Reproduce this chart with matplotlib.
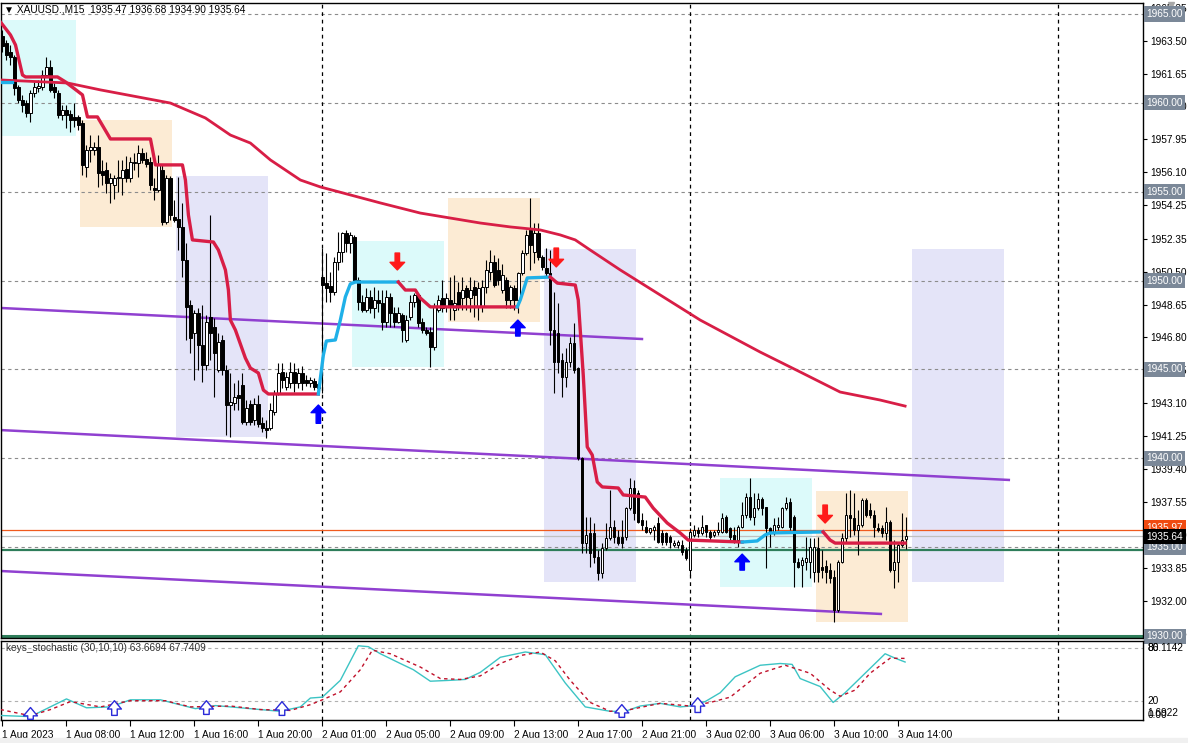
import numpy as np
import matplotlib
matplotlib.use("Agg")
import matplotlib.pyplot as plt
from matplotlib.patches import Rectangle

plt.rcParams['font.family'] = ['Liberation Sans', 'DejaVu Sans']

# --- M15 candles, bar 0 = 1 Aug 04:00 ---
opens = [
    1963.76, 1963.37, 1962.87, 1962.59, 1960.90, 1960.16, 1959.99, 1959.43, 1960.56, 1960.84,
    1960.90, 1961.57, 1962.02, 1960.90, 1960.56, 1959.32, 1959.60, 1959.37, 1959.21, 1959.21,
    1958.87, 1956.39, 1957.35, 1957.35, 1957.52, 1956.17, 1956.22, 1955.49, 1955.38, 1955.77,
    1955.77, 1956.28, 1955.77, 1956.62, 1956.62, 1957.18, 1956.84, 1956.68, 1955.21, 1955.10,
    1956.22, 1953.30, 1955.77, 1953.58, 1953.47, 1953.02, 1951.16, 1948.63, 1947.05, 1948.18,
    1946.38, 1945.25, 1947.95, 1947.39, 1944.97, 1946.66, 1944.97, 1943.00, 1943.11, 1943.56,
    1944.13, 1942.04, 1943.06, 1942.16, 1943.06, 1941.99, 1941.71, 1941.71, 1942.61, 1943.67,
    1944.86, 1944.01, 1944.24, 1944.86, 1944.24, 1944.80, 1944.41, 1944.24, 1944.35, 1943.96,
    1950.20, 1949.86, 1949.70, 1949.36, 1951.05, 1951.61, 1952.68, 1952.12, 1952.46, 1950.03,
    1948.80, 1948.35, 1949.08, 1948.46, 1948.91, 1948.74, 1947.67, 1949.08, 1948.18, 1947.67,
    1948.07, 1946.66, 1947.95, 1948.80, 1949.19, 1947.67, 1947.22, 1947.11, 1946.27, 1948.35,
    1949.02, 1948.52, 1948.91, 1948.35, 1949.36, 1949.02, 1949.58, 1949.02, 1949.64, 1948.52,
    1948.52, 1949.64, 1950.49, 1951.05, 1950.60, 1949.47, 1950.03, 1948.91, 1949.58, 1948.91,
    1950.43, 1951.55, 1952.85, 1951.61, 1952.68, 1951.33, 1950.71, 1950.43, 1947.22, 1947.05,
    1945.53, 1944.58, 1945.42, 1946.49, 1945.08, 1940.02, 1935.23, 1935.80, 1935.80, 1934.45,
    1933.55, 1934.95, 1935.51, 1936.13, 1935.57, 1935.57, 1935.57, 1937.20, 1938.33, 1938.05,
    1936.53, 1936.13, 1935.86, 1935.97, 1936.36, 1935.80, 1935.80, 1935.57, 1935.12, 1935.12,
    1935.12, 1934.84, 1933.71, 1935.69, 1935.97, 1935.80, 1936.25, 1935.86, 1935.69, 1935.86,
    1935.86, 1936.69, 1936.08, 1935.69, 1935.40, 1936.13, 1936.81, 1937.82, 1936.69, 1937.20,
    1937.71, 1937.26, 1936.08, 1935.80, 1936.13, 1936.13, 1937.20, 1937.54, 1936.69, 1934.17,
    1934.00, 1934.17, 1934.17, 1933.60, 1934.95, 1933.88, 1933.94, 1933.71, 1933.32, 1931.46,
    1934.17, 1935.51, 1936.81, 1936.64, 1935.97, 1936.25, 1937.66, 1937.09, 1936.81, 1936.08,
    1936.08, 1935.80, 1936.42, 1933.71, 1934.17, 1935.12, 1935.47]
highs = [
    1964.10, 1963.54, 1963.26, 1962.70, 1961.01, 1960.45, 1960.16, 1960.73, 1961.18, 1961.29,
    1961.85, 1962.59, 1962.41, 1961.12, 1960.73, 1959.88, 1959.88, 1959.60, 1959.99, 1959.32,
    1959.04, 1957.63, 1958.19, 1957.80, 1958.19, 1956.79, 1956.68, 1956.05, 1955.94, 1956.79,
    1956.79, 1957.01, 1956.96, 1957.18, 1957.63, 1957.46, 1957.24, 1956.96, 1955.77, 1957.07,
    1956.51, 1955.94, 1955.89, 1954.54, 1955.83, 1954.37, 1952.12, 1948.91, 1948.35, 1948.46,
    1948.63, 1948.07, 1953.69, 1947.90, 1947.05, 1946.94, 1945.25, 1944.80, 1944.24, 1944.41,
    1944.80, 1943.28, 1943.28, 1943.39, 1943.56, 1942.33, 1942.16, 1943.11, 1943.84, 1945.36,
    1945.36, 1944.86, 1945.42, 1945.36, 1945.08, 1945.19, 1944.69, 1944.58, 1944.52, 1944.24,
    1951.84, 1951.55, 1950.49, 1951.33, 1952.74, 1952.74, 1952.85, 1952.74, 1952.57, 1950.20,
    1949.19, 1949.58, 1949.47, 1949.64, 1949.47, 1949.47, 1949.47, 1949.30, 1948.52, 1948.52,
    1948.18, 1948.07, 1949.19, 1949.30, 1949.30, 1947.90, 1947.39, 1947.39, 1948.74, 1949.19,
    1950.03, 1949.30, 1950.20, 1950.31, 1949.92, 1950.20, 1949.75, 1950.20, 1950.03, 1949.92,
    1950.03, 1951.16, 1951.72, 1951.44, 1951.27, 1950.94, 1950.20, 1949.75, 1949.75, 1950.49,
    1951.72, 1952.85, 1954.65, 1953.24, 1953.24, 1951.44, 1951.84, 1951.72, 1949.36, 1948.74,
    1945.93, 1946.21, 1946.83, 1947.62, 1945.14, 1940.07, 1936.69, 1936.69, 1936.36, 1934.84,
    1935.23, 1936.36, 1938.22, 1936.53, 1935.97, 1936.53, 1937.26, 1938.89, 1938.78, 1938.22,
    1936.92, 1936.53, 1936.08, 1936.25, 1936.69, 1935.97, 1935.86, 1935.68, 1935.40, 1935.40,
    1935.40, 1935.01, 1936.08, 1936.25, 1936.13, 1936.81, 1936.25, 1935.97, 1935.97, 1936.42,
    1936.92, 1936.81, 1936.13, 1936.13, 1936.25, 1937.54, 1938.05, 1938.89, 1938.05, 1938.05,
    1937.82, 1937.26, 1936.13, 1936.64, 1936.69, 1937.26, 1937.82, 1937.77, 1936.81, 1934.39,
    1934.45, 1935.57, 1935.51, 1935.51, 1935.57, 1934.84, 1934.28, 1934.11, 1933.71, 1934.28,
    1935.80, 1938.05, 1938.22, 1938.05, 1937.09, 1937.77, 1937.77, 1937.49, 1937.09, 1936.36,
    1936.25, 1937.26, 1936.53, 1935.40, 1935.23, 1936.92, 1936.68]
lows = [
    1962.87, 1962.41, 1962.13, 1960.45, 1959.99, 1959.49, 1959.21, 1958.93, 1960.34, 1960.62,
    1960.73, 1961.46, 1960.62, 1960.28, 1959.15, 1959.04, 1958.59, 1958.36, 1958.65, 1958.47,
    1955.94, 1955.83, 1956.68, 1957.07, 1955.27, 1955.38, 1954.93, 1954.37, 1954.59, 1954.99,
    1954.82, 1955.55, 1955.55, 1956.22, 1955.83, 1956.62, 1956.39, 1955.10, 1954.54, 1954.99,
    1953.13, 1953.18, 1953.41, 1953.30, 1951.72, 1950.20, 1946.66, 1945.93, 1944.41, 1944.97,
    1944.30, 1944.97, 1945.53, 1943.45, 1944.86, 1944.69, 1941.31, 1941.20, 1942.72, 1942.72,
    1941.93, 1941.87, 1941.87, 1941.87, 1941.76, 1941.48, 1941.14, 1941.59, 1942.44, 1943.56,
    1943.96, 1943.84, 1943.96, 1943.73, 1943.96, 1943.84, 1944.07, 1944.01, 1943.84, 1943.73,
    1943.67, 1948.80, 1948.80, 1949.19, 1950.60, 1951.05, 1951.61, 1951.55, 1949.86, 1948.35,
    1948.24, 1948.24, 1948.18, 1947.90, 1948.24, 1947.22, 1947.39, 1947.39, 1947.39, 1947.61,
    1946.55, 1946.55, 1947.78, 1948.52, 1947.39, 1947.05, 1946.94, 1945.14, 1946.10, 1948.24,
    1948.24, 1948.24, 1947.78, 1947.78, 1948.35, 1948.35, 1948.35, 1948.24, 1947.96, 1947.78,
    1948.24, 1949.30, 1950.03, 1949.64, 1949.75, 1949.30, 1948.46, 1948.46, 1948.35, 1948.18,
    1950.32, 1951.44, 1950.60, 1950.99, 1951.16, 1950.60, 1950.20, 1946.38, 1943.67, 1944.80,
    1943.45, 1944.01, 1945.14, 1944.80, 1939.91, 1934.67, 1934.67, 1933.88, 1934.11, 1933.15,
    1933.26, 1934.84, 1935.40, 1935.23, 1935.12, 1934.95, 1935.40, 1937.09, 1936.53, 1936.36,
    1935.97, 1935.80, 1935.74, 1935.40, 1935.23, 1935.12, 1935.12, 1934.95, 1935.01, 1934.95,
    1934.56, 1934.28, 1933.43, 1935.57, 1935.57, 1935.69, 1935.57, 1935.40, 1935.57, 1935.69,
    1935.80, 1935.80, 1935.29, 1935.23, 1935.01, 1936.08, 1936.64, 1936.53, 1936.25, 1937.09,
    1936.81, 1933.83, 1935.01, 1935.69, 1935.97, 1936.08, 1937.09, 1935.97, 1932.76, 1933.83,
    1932.76, 1933.71, 1933.26, 1933.04, 1933.04, 1933.26, 1932.98, 1932.98, 1930.79, 1931.35,
    1934.11, 1935.23, 1935.57, 1935.69, 1934.56, 1936.13, 1936.69, 1936.64, 1935.57, 1935.86,
    1935.57, 1935.40, 1933.60, 1932.70, 1933.04, 1935.01, 1934.90]
closes = [
    1963.20, 1962.70, 1962.59, 1960.84, 1960.16, 1959.88, 1959.43, 1960.56, 1960.90, 1960.95,
    1961.57, 1962.02, 1960.73, 1960.62, 1959.32, 1959.60, 1959.32, 1959.04, 1959.04, 1958.76,
    1956.51, 1957.35, 1957.52, 1957.52, 1956.05, 1955.94, 1955.49, 1955.77, 1955.77, 1955.83,
    1956.22, 1955.77, 1956.68, 1956.68, 1957.18, 1956.79, 1956.56, 1955.38, 1955.10, 1956.51,
    1953.30, 1955.77, 1953.69, 1953.41, 1953.02, 1951.16, 1948.52, 1946.77, 1948.18, 1946.38,
    1945.25, 1947.67, 1947.05, 1945.93, 1946.55, 1944.97, 1943.00, 1943.17, 1943.45, 1943.39,
    1942.04, 1942.83, 1942.04, 1943.06, 1941.93, 1941.71, 1941.59, 1942.72, 1943.67, 1944.80,
    1944.41, 1944.58, 1944.86, 1944.24, 1944.80, 1944.24, 1944.24, 1944.41, 1944.01, 1944.18,
    1949.75, 1949.58, 1949.36, 1951.05, 1951.61, 1952.68, 1952.12, 1952.57, 1950.03, 1948.80,
    1948.35, 1949.08, 1948.46, 1948.91, 1948.74, 1947.67, 1949.08, 1948.18, 1947.67, 1948.18,
    1947.22, 1947.78, 1948.80, 1949.19, 1947.62, 1947.22, 1947.05, 1946.27, 1948.52, 1948.91,
    1948.46, 1949.02, 1948.52, 1948.74, 1948.63, 1949.47, 1949.08, 1949.47, 1949.19, 1949.58,
    1949.64, 1950.60, 1951.05, 1949.75, 1950.03, 1950.32, 1948.91, 1949.64, 1948.91, 1950.43,
    1951.55, 1952.57, 1952.01, 1952.68, 1951.33, 1950.77, 1950.43, 1947.22, 1945.42, 1945.42,
    1944.58, 1945.42, 1946.49, 1944.97, 1940.02, 1935.23, 1935.68, 1934.67, 1934.45, 1933.55,
    1934.95, 1935.51, 1936.13, 1935.57, 1935.23, 1935.23, 1937.20, 1938.33, 1936.92, 1936.42,
    1936.25, 1935.86, 1936.08, 1936.13, 1935.29, 1935.29, 1935.29, 1935.29, 1935.23, 1935.29,
    1934.73, 1934.39, 1935.86, 1935.97, 1935.80, 1936.13, 1935.86, 1935.57, 1935.86, 1935.97,
    1936.64, 1935.86, 1935.57, 1935.29, 1936.13, 1936.81, 1937.82, 1936.69, 1937.20, 1937.71,
    1937.20, 1936.08, 1935.80, 1936.25, 1936.25, 1937.20, 1937.49, 1936.13, 1934.17, 1933.88,
    1934.28, 1934.39, 1935.01, 1935.01, 1933.60, 1933.71, 1933.60, 1933.26, 1931.46, 1934.17,
    1935.51, 1936.81, 1936.64, 1935.97, 1936.25, 1937.66, 1936.81, 1936.81, 1936.13, 1935.97,
    1935.80, 1936.42, 1933.71, 1934.17, 1935.12, 1935.40, 1935.64]

# long moving average (vertices: bar index, price)
ma_bar = [-0.5, 16.25, 24.5, 42, 50.75, 57, 62, 67, 74.5, 79.5, 87, 94.5, 104.5, 112, 119.5,
          127, 134.5, 139.5, 143.25, 147, 154.5, 164.5, 174.5, 189.5, 199.5, 209.5, 219.5, 225.75]
ma_val = [1961.29, 1961.12, 1960.73, 1959.99, 1959.15, 1958.19, 1957.74, 1956.79, 1955.66,
          1955.27, 1954.82, 1954.37, 1953.80, 1953.52, 1953.24, 1953.02, 1952.85, 1952.57,
          1952.29, 1951.72, 1950.60, 1949.19, 1947.78, 1945.98, 1944.86, 1943.73, 1943.28, 1942.94]

# trailing stop line segments: (direction, bars, prices)
trail_segments = [
    ('up', [-0.5, 2.5], [1961.18, 1961.18]),
    ('dn', [-0.5, 2, 3.25, 5, 5.75, 13.75, 15.75, 20, 21.25, 23.75, 27, 37, 38.25, 45, 45.75,
            46.5, 47.5, 52.75, 54, 55.75, 56.5, 57, 58.25, 60.75, 62, 64, 65.25, 66.5, 79],
     [1964.55, 1963.82, 1963.26, 1961.57, 1961.46, 1961.46, 1961.18, 1960.45, 1959.21, 1959.21,
      1957.97, 1957.97, 1956.51, 1956.51, 1955.66, 1953.69, 1952.29, 1952.17, 1951.72, 1950.60,
      1949.47, 1947.78, 1947.22, 1945.64, 1945.08, 1944.80, 1943.84, 1943.62, 1943.62]),
    ('up', [79, 80.25, 81, 83.25, 84.5, 85.75, 87, 88.25, 99],
     [1943.62, 1945.81, 1946.60, 1946.66, 1947.78, 1949.08, 1949.81, 1949.92, 1949.92]),
    ('dn', [99, 100.75, 103.25, 104.5, 107, 128.75],
     [1949.92, 1949.47, 1949.47, 1949.02, 1948.52, 1948.52]),
    ('up', [128.75, 129.5, 131.25, 137], [1948.52, 1948.91, 1950.15, 1950.20]),
    ('dn', [137, 138.75, 143.25, 144, 145.25, 146.25, 147.5, 148.75, 150, 154, 155.25, 160.75,
            162.75, 166.25, 169.5, 171.5, 185],
     [1950.20, 1949.86, 1949.75, 1948.91, 1944.69, 1940.64, 1940.19, 1938.67, 1938.39, 1938.33,
      1937.94, 1937.82, 1937.20, 1936.36, 1935.80, 1935.40, 1935.29]),
    ('up', [185, 188.75, 190.75, 192, 205.25], [1935.29, 1935.35, 1935.69, 1935.80, 1935.86]),
    ('dn', [205.25, 207, 208.25, 225.75], [1935.86, 1935.40, 1935.23, 1935.23]),
]

# channel lines (start bar, start price, end bar, end price)
channels = [(-0.5, 1948.46, 160.25, 1946.71),
            (-0.5, 1941.59, 252, 1938.78),
            (-0.5, 1933.66, 220, 1931.24)]

# session boxes (start bar, end bar, low, high, kind)
boxes = [(-4.5, 18.5, 1958.13, 1964.66, 'asia'), (19.5, 42.5, 1953.01, 1959.04, 'london'),
         (43.5, 66.5, 1941.20, 1955.88, 'ny'), (87.5, 110.5, 1945.14, 1952.23, 'asia'),
         (111.5, 134.5, 1947.67, 1954.65, 'london'), (135.5, 158.5, 1933.04, 1951.78, 'ny'),
         (179.5, 202.5, 1932.76, 1938.89, 'asia'), (203.5, 226.5, 1930.79, 1938.16, 'london'),
         (227.5, 250.5, 1933.04, 1951.78, 'ny')]

# signal arrows: (bar, tail price, tip price)
buy_arrows = [(79, 1941.97, 1943.00), (128.9, 1946.88, 1947.78), (185, 1933.71, 1934.61)]
sell_arrows = [(98.75, 1951.55, 1950.60), (138.5, 1951.83, 1950.77), (205.75, 1937.37, 1936.36)]

# stochastic (30,10,10)
stoch_bar = [-0.5, 7, 16, 21, 27, 32, 39.5, 48.25, 53.25, 62, 69.5, 74.5, 77, 80, 84.5, 89, 91.5,
             94.5, 99.5, 102.75, 107, 112, 115.75, 119.5, 124.5, 130.75, 135.75, 140.75, 145.75,
             152, 155.75, 159.5, 164.5, 169.5, 172, 175.75, 179.5, 183.25, 189.5, 194.5, 197.5,
             199.5, 204.5, 207.75, 210.75, 213.25, 218.25, 220.75, 223.25, 225.75]
stoch_main = [3.3, 2, 22, 12, 13, 21, 21, 11, 14.5, 11, 8, 13, 23, 24, 43, 82, 81, 73, 62, 55,
              42, 43, 44, 52, 69, 75, 72, 40, 13, 8, 8, 14, 17, 13, 14, 19, 29, 47, 60, 62, 61,
              45, 36, 18, 29, 40, 62, 73, 68, 63.67]
sig_bar = [-0.5, 7, 12, 17, 24.5, 32, 40.75, 47, 57, 64.5, 72, 77, 80, 84.5, 89.5, 92.5, 97,
           99.5, 104.5, 109.5, 114.5, 119.5, 124.5, 129.5, 134.5, 138.25, 142, 147, 152, 157,
           164.5, 172, 177, 182, 189.5, 195.75, 202, 207, 209.5, 213.25, 217, 222, 225.75]
stoch_signal = [10, 3, 10, 19, 13, 20, 20, 13, 14, 10, 9, 15.5, 21, 30, 55, 77, 73, 68, 58, 45,
                44, 48, 62, 71, 75, 65, 43, 18, 8, 10, 17, 14, 18, 24, 51, 60, 51, 32, 25, 32,
                51, 68, 67.74]
# hollow buy arrows in the stochastic window: (bar, tail, tip)
stoch_arrows = [(7, -1.0, 12.3), (28, 3.4, 20), (51, 4.5, 20), (69.9, 3.4, 18.9),
                (154.9, 1.2, 15.6), (173.9, 6.7, 23.3)]

time_bars = [0, 16, 32, 48, 64, 80, 96, 112, 128, 144, 160, 176, 192, 208, 224]
time_labels = ['1 Aug 2023', '1 Aug 08:00', '1 Aug 12:00', '1 Aug 16:00', '1 Aug 20:00',
               '2 Aug 01:00', '2 Aug 05:00', '2 Aug 09:00', '2 Aug 13:00', '2 Aug 17:00',
               '2 Aug 21:00', '3 Aug 02:00', '3 Aug 06:00', '3 Aug 10:00', '3 Aug 14:00']
day_breaks = [80, 172, 264]
price_ticks = [1965.35, 1963.50, 1961.65, 1959.80, 1957.95, 1956.10, 1954.25, 1952.35, 1950.50,
               1948.65, 1946.80, 1944.95, 1943.10, 1941.25, 1939.40, 1937.55, 1935.70, 1933.85,
               1932.00, 1930.15]
levels = [1965, 1960, 1955, 1950, 1945, 1940, 1935, 1930]

box_colors = {'asia': '#dcfafa', 'london': '#fcebd4', 'ny': '#e4e4f8'}
UP_COL, DN_COL = '#1fb0e8', '#d81e46'
FS = 7.3

W, H = 1188, 743
fig = plt.figure(figsize=(W / 100, H / 100), dpi=100)


def rect(x0, y0, x1, y1):
    return [x0 / W, 1 - y1 / H, (x1 - x0) / W, (y1 - y0) / H]


ax = fig.add_axes(rect(0.5, 3, 1143, 638))
axs = fig.add_axes(rect(0.5, 641, 1143, 720))
fig.patches.append(Rectangle((0, 0), 1, 5 / H, transform=fig.transFigure, color='#f0f0f0'))

ax.set_xlim(-0.5, 285.25)
ax.set_ylim(1929.89, 1965.62)
axs.set_xlim(-0.5, 285.25)
axs.set_ylim(-1.8, 87.4)

for b0, b1, lo, hi, kind in boxes:
    ax.add_patch(Rectangle((b0, lo), b1 - b0, hi - lo, color=box_colors[kind], lw=0, zorder=0.5))

for lv in levels:
    ax.axhline(lv, color='#8c8c8c', lw=0.8, ls=(0, (3, 3)), zorder=0.8)
for d in day_breaks:
    ax.axvline(d, color='black', lw=0.9, ls=(0, (3, 3)), zorder=0.9)
    axs.axvline(d, color='black', lw=0.9, ls=(0, (3, 3)), zorder=0.9)

# price lines
ax.axhline(1935.97, color='#f05a1e', lw=0.9, zorder=1)
ax.axhline(1935.64, color='#c0c0c0', lw=0.9, zorder=1)
ax.axhline(1934.86, color='#2e7d5a', lw=1.6, zorder=1)
ax.axhline(1930.02, color='#2e7d5a', lw=2.2, zorder=1)

for b0, p0, b1, p1 in channels:
    ax.plot([b0, b1], [p0, p1], color='#9040d0', lw=1.8, zorder=1.5, solid_capstyle='butt')

# candles
o = np.array(opens)
c = np.array(closes)
idx = np.arange(len(o))
bull = c >= o
ax.vlines(idx, lows, highs, color='black', lw=0.8, zorder=2)
bot = np.minimum(o, c)
hgt = np.maximum(np.abs(c - o), 0.04)
ax.bar(idx[bull], hgt[bull], bottom=bot[bull], width=0.62, color='white',
       edgecolor='black', lw=0.7, zorder=2.5)
ax.bar(idx[~bull], hgt[~bull], bottom=bot[~bull], width=0.62, color='black',
       edgecolor='black', lw=0.7, zorder=2.5)

ax.plot(ma_bar, ma_val, color=DN_COL, lw=2.0, zorder=3)
for kind, xs, ys in trail_segments:
    ax.plot(xs, ys, color=UP_COL if kind == 'up' else DN_COL, lw=2.4, zorder=3.2,
            solid_joinstyle='round')

arrow_style = 'simple,head_width=1.05,head_length=0.55,tail_width=0.32'
for b, tail, tip in buy_arrows:
    ax.annotate('', xy=(b, tip), xytext=(b, tail), zorder=4,
                arrowprops=dict(arrowstyle=arrow_style, color='#0000ff',
                                shrinkA=0, shrinkB=0, mutation_scale=10))
for b, tail, tip in sell_arrows:
    ax.annotate('', xy=(b, tip), xytext=(b, tail), zorder=4,
                arrowprops=dict(arrowstyle=arrow_style, color='#ff1a1a',
                                shrinkA=0, shrinkB=0, mutation_scale=10))

# right price scale
ax.yaxis.tick_right()
ax.set_yticks(price_ticks)
ax.set_yticklabels([f'{t:.2f}' for t in price_ticks])
ax.tick_params(axis='y', length=3, width=0.8, pad=2, labelsize=FS, colors='black')
ax.set_xticks([])
ytr = ax.get_yaxis_transform()
box_kw = dict(boxstyle='square,pad=0.25', ec='none')
for lv in levels:
    ax.text(1.003, lv, f'{lv:.2f}', transform=ytr, va='center', ha='left', fontsize=FS,
            color='white', clip_on=False, zorder=5, bbox=dict(fc='#7b8898', **box_kw))
ax.text(1.003, 1936.08, '1935.97', transform=ytr, va='center', ha='left', fontsize=FS,
        color='white', clip_on=False, zorder=5, bbox=dict(fc='#f04a10', **box_kw))
ax.text(1.003, 1935.60, '1935.64', transform=ytr, va='center', ha='left', fontsize=FS,
        color='white', clip_on=False, zorder=5.5, bbox=dict(fc='black', **box_kw))
ax.plot([1.0 + 28 / 1142], [1965.51], marker='v', color='#a8a8a8', ms=5,
        transform=ytr, clip_on=False)

fig.text(4 / W, 1 - 10 / H, '\u25bc XAUUSD.,M15  1935.47 1936.68 1934.90 1935.64',
         fontsize=FS, va='center', ha='left')

# stochastic window
axs.axhline(80, color='#b0b0b0', lw=0.8, ls=(0, (3, 3)))
axs.axhline(20, color='#b0b0b0', lw=0.8, ls=(0, (3, 3)))
axs.plot(stoch_bar, stoch_main, color='#3cc4c4', lw=1.0, zorder=3)
axs.plot(sig_bar, stoch_signal, color='#c0102a', lw=1.0, ls=(0, (2.5, 2.5)), zorder=3)
for b, tail, tip in stoch_arrows:
    axs.annotate('', xy=(b, tip), xytext=(b, tail), zorder=4,
                 arrowprops=dict(arrowstyle='simple,head_width=1.0,head_length=0.6,tail_width=0.4',
                                 fc='white', ec='#2a2ad8', lw=1.0, shrinkA=0, shrinkB=0,
                                 mutation_scale=10))
axs.text(0.005, 80, 'keys_stochastic (30,10,10) 63.6694 67.7409',
         transform=axs.get_yaxis_transform(), fontsize=FS, va='center', ha='left', color='#303030')
str_ = axs.get_yaxis_transform()
for val, txt in [(80, '80'), (80, '86.1142'), (20, '20'), (3.5, '0.00'), (5.6, '1.6922')]:
    axs.text(1.004, val, txt, transform=str_, fontsize=FS, va='center', ha='left', clip_on=False)
axs.set_yticks([])
axs.set_xticks(time_bars)
axs.set_xticklabels(time_labels)
axs.tick_params(axis='x', length=4, width=0.8, pad=3, labelsize=FS)
for lab in axs.get_xticklabels():
    lab.set_ha('left')

for a in (ax, axs):
    for s in a.spines.values():
        s.set_color('black')
        s.set_linewidth(1.0)

fig.savefig('out.png', dpi=100)
